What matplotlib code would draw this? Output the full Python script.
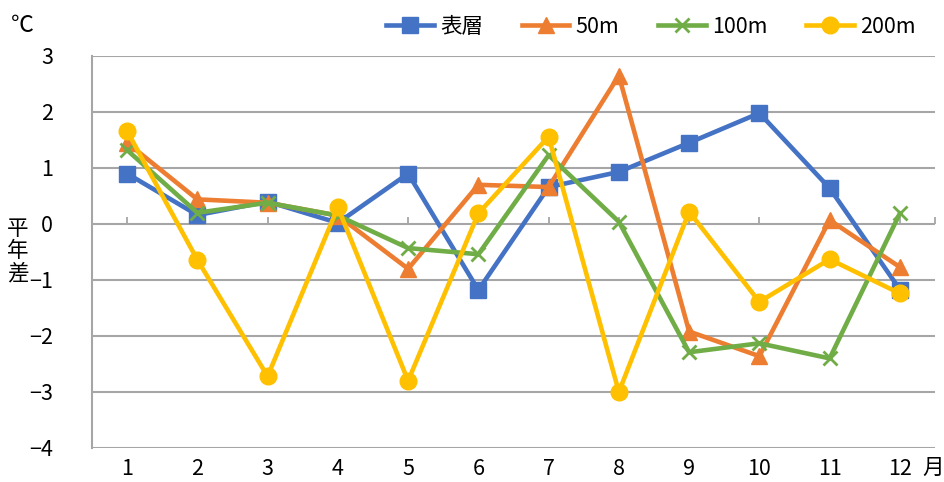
import matplotlib
matplotlib.use("Agg")
import matplotlib.pyplot as plt

plt.rcParams['font.family'] = ['Noto Sans CJK JP', 'DejaVu Sans']
plt.rcParams['axes.unicode_minus'] = True

months = list(range(1, 13))
month_labels = [str(m) for m in months]
y_ticks = [3, 2, 1, 0, -1, -2, -3, -4]

surface = [0.90, 0.16, 0.40, 0.02, 0.90, -1.18, 0.66, 0.93, 1.45, 1.98, 0.64, -1.17]
depth_50 = [1.45, 0.44, 0.38, 0.15, -0.80, 0.70, 0.66, 2.65, -1.92, -2.36, 0.07, -0.77]
depth_100 = [1.32, 0.20, 0.38, 0.15, -0.43, -0.54, 1.23, 0.04, -2.29, -2.13, -2.40, 0.19]
depth_200 = [1.66, -0.64, -2.72, 0.30, -2.80, 0.19, 1.56, -3.00, 0.22, -1.39, -0.63, -1.24]

series = [
    ("表層", surface, "#4472C4", "s", 12),
    ("50m", depth_50, "#ED7D31", "^", 12),
    ("100m", depth_100, "#70AD47", "x", 10),
    ("200m", depth_200, "#FFC000", "o", 12),
]

fs = 15.5

fig = plt.figure(figsize=(9.44, 4.82), dpi=100)
ax = fig.add_axes([92 / 944, 1 - 448 / 482, (935 - 92) / 944, (448 - 56) / 482])

grid_color = "#A6A6A6"
ax.set_xlim(0.5, 12.5)
ax.set_ylim(-4, 3)
ax.set_yticks(y_ticks)
ax.set_yticklabels([f"{v}".replace("-", "\u2212") for v in y_ticks])
ax.set_xticks(months)
ax.set_xticklabels(month_labels)
ax.yaxis.grid(True, color=grid_color, linewidth=1.5)
ax.set_axisbelow(True)
for side in ("top", "right", "bottom"):
    ax.spines[side].set_visible(False)
ax.spines["left"].set_color(grid_color)
ax.spines["left"].set_linewidth(1.5)
ax.tick_params(axis="both", length=0, labelsize=fs, colors="black")
ax.tick_params(axis="y", pad=28)
ax.tick_params(axis="x", pad=7)

# small upward tick marks on the zero line at each month and at the axis end
tick_x = months + [12.5]
ax.plot(tick_x, [0] * len(tick_x), linestyle="none", marker=2, markersize=5,
        markeredgewidth=1.3, color=grid_color, zorder=1)

for name, vals, color, marker, ms in series:
    mew = 2.0 if marker == "x" else 1.0
    ax.plot(months, vals, color=color, linewidth=3.3, marker=marker,
            markersize=ms, markeredgewidth=mew, markeredgecolor=color,
            markerfacecolor=color, label=name, zorder=3)

fig.legend(loc="center", bbox_to_anchor=(651 / 944, 1 - 27 / 482), ncol=4,
           frameon=False, fontsize=fs, handlelength=2.2, handletextpad=0.3,
           columnspacing=1.8)

fig.text(22 / 944, 1 - 25 / 482, "℃", fontsize=fs + 1, ha="center", va="center")
fig.text(18 / 944, 1 - 251 / 482, "平\n年\n差", fontsize=fs, ha="center",
         va="center", linespacing=1.0)
fig.text(933 / 944, 1 - 468 / 482, "月", fontsize=fs, ha="center", va="center")

fig.savefig("out.png", dpi=100)
